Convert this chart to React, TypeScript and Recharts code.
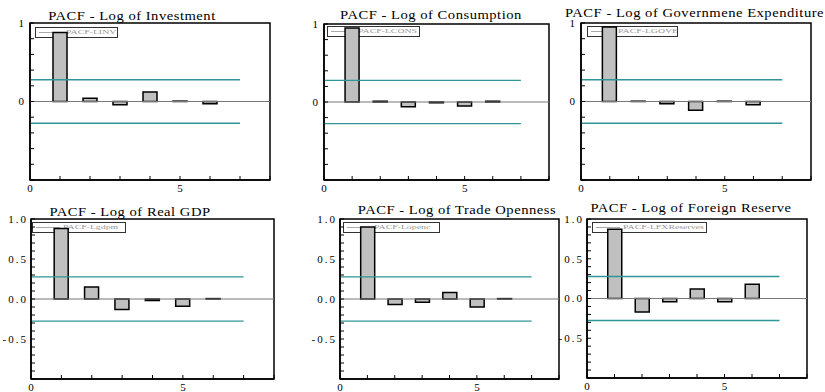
import React from 'react';
import { ComposedChart, Bar, XAxis, YAxis, ReferenceLine, ReferenceArea, Legend } from 'recharts';

// lags shown on each correlogram
const lags = [1, 2, 3, 4, 5, 6];

// partial autocorrelations
const pacfLinv = [0.88, 0.04, -0.04, 0.12, 0.005, -0.03];
const pacfLcons = [0.95, 0.01, -0.06, -0.01, -0.05, 0.01];
const pacfLgove = [0.95, 0.004, -0.03, -0.11, 0.004, -0.04];
const pacfLgdp = [0.88, 0.15, -0.13, -0.02, -0.09, 0.005];
const pacfLopen = [0.9, -0.07, -0.04, 0.08, -0.1, 0.005];
const pacfLfx = [0.87, -0.17, -0.04, 0.12, -0.04, 0.18];

// +/- 2 s.e. band, drawn out to lag 7
const bandLimit = 0.277;
const bandEnd = 7;

const xTicks = [0, 1, 2, 3, 4, 5, 6, 7, 8];
const xLabels: Record<string, string> = { '0': '0', '5': '5' };
const yTicksCoarse = [-1, -0.8, -0.6, -0.4, -0.2, 0, 0.2, 0.4, 0.6, 0.8, 1];
const yLabelsCoarse: Record<string, string> = { '1': '1', '0': '0' };
const yTicksFine = [-1, -0.9, -0.8, -0.7, -0.6, -0.5, -0.4, -0.3, -0.2, -0.1, 0, 0.1, 0.2, 0.3, 0.4, 0.5, 0.6, 0.7, 0.8, 0.9, 1];
const yLabelsFine: Record<string, string> = { '1': '1.0', '0.5': '0.5', '0': '0.0', '-0.5': '-0.5' };

const TEAL = '#2f9696';
const FONT = 'Liberation Serif';
const YW = 30;
const XH = 20;
const MT = 8;
const MR = 2;

interface PanelCfg {
  title: string;
  legend: string;
  values: number[];
  fine: boolean;
  x0: number; x1: number; y0: number; y1: number;
  titleX: number; titleTop: number; titleLeftAlign?: boolean;
  legDx: number; legDy: number; legW: number;
}

const panels: PanelCfg[] = [
  { title: 'PACF - Log of Investment', legend: 'PACF-LINV', values: pacfLinv, fine: false,
    x0: 30, x1: 270, y0: 23, y1: 180, titleX: 132, titleTop: 10.5, legDx: 5, legDy: 4, legW: 83 },
  { title: 'PACF - Log of Consumption', legend: 'PACF-LCONS', values: pacfLcons, fine: false,
    x0: 324, x1: 549, y0: 24, y1: 180, titleX: 431, titleTop: 10, legDx: 3, legDy: 2, legW: 93 },
  { title: 'PACF - Log of Governmene Expenditure', legend: 'PACF-LGOVE', values: pacfLgove, fine: false,
    x0: 581, x1: 811, y0: 23, y1: 180, titleX: 565, titleTop: 7.5, titleLeftAlign: true, legDx: 6, legDy: 3, legW: 91 },
  { title: 'PACF - Log of Real GDP', legend: 'PACF-Lgdpm', values: pacfLgdp, fine: true,
    x0: 31, x1: 274, y0: 219, y1: 379, titleX: 130, titleTop: 206.5, legDx: 1, legDy: 3, legW: 94 },
  { title: 'PACF - Log of Trade Openness', legend: 'PACF-Lopenc', values: pacfLopen, fine: true,
    x0: 340, x1: 559, y0: 219, y1: 379, titleX: 457, titleTop: 205, legDx: 3, legDy: 3, legW: 97 },
  { title: 'PACF - Log of Foreign Reserve', legend: 'PACF-LFXReserves', values: pacfLfx, fine: true,
    x0: 587, x1: 807, y0: 219, y1: 378, titleX: 691, titleTop: 203, legDx: 5, legDy: 3, legW: 115 },
];

const LegendBox = ({ name, w }: { name: string; w: number }) => (
  <div
    style={{
      width: w, height: 11, boxSizing: 'border-box', border: '1px solid #333', background: '#fff',
      display: 'flex', alignItems: 'center', overflow: 'hidden',
    }}
  >
    <div style={{ width: 24, borderTop: '1px solid #aaa', margin: '0 3px 0 3px', flex: 'none' }} />
    <span
      style={{
        fontFamily: FONT, fontSize: 7, color: '#999', whiteSpace: 'nowrap',
        display: 'inline-block', transform: 'scaleX(1.4)', transformOrigin: 'left center', lineHeight: '9px',
      }}
    >
      {name}
    </span>
  </div>
);

const Panel = ({ p }: { p: PanelCfg }) => {
  const data = lags.map((lag, i) => ({ lag, pacf: p.values[i] }));
  const width = p.x1 - p.x0 + YW + MR;
  const height = p.y1 - p.y0 + MT + XH;
  const yTicks = p.fine ? yTicksFine : yTicksCoarse;
  const yLabels = p.fine ? yLabelsFine : yLabelsCoarse;
  const tickStyle = { fontSize: 11, fill: '#000', fontFamily: FONT, letterSpacing: p.fine ? 2 : 0 };

  return (
    <>
      <div style={{ position: 'absolute', left: p.x0 - YW, top: p.y0 - MT }}>
        <ComposedChart width={width} height={height} data={data} margin={{ top: MT, right: MR, left: 0, bottom: 0 }}>
          <XAxis
            dataKey="lag" type="number" domain={[0, 8]} ticks={xTicks} interval={0}
            height={XH} tickSize={-4} tickMargin={8}
            tickFormatter={(v: number) => xLabels[String(v)] ?? ''}
            axisLine={{ stroke: '#000', strokeWidth: 1.5 }} tickLine={{ stroke: '#000' }}
            tick={{ fontSize: 11, fill: '#000', fontFamily: FONT }}
          />
          <YAxis
            type="number" domain={[-1, 1]} ticks={yTicks} interval={0}
            width={YW} tickSize={-4} tickMargin={p.fine ? 7 : 10}
            tickFormatter={(v: number) => yLabels[String(v)] ?? ''}
            axisLine={{ stroke: '#000', strokeWidth: 1.5 }} tickLine={{ stroke: '#000' }}
            tick={tickStyle}
          />
          <ReferenceArea x1={0} x2={8} y1={-1} y2={1} fill="none" stroke="#000" strokeWidth={1.5} fillOpacity={0} />
          <ReferenceLine y={0} stroke="#777" strokeWidth={1} />
          <ReferenceLine segment={[{ x: 0, y: bandLimit }, { x: bandEnd, y: bandLimit }]} stroke={TEAL} strokeWidth={1.3} />
          <ReferenceLine segment={[{ x: 0, y: -bandLimit }, { x: bandEnd, y: -bandLimit }]} stroke={TEAL} strokeWidth={1.3} />
          <Bar dataKey="pacf" fill="#c0c0c0" stroke="#000" strokeWidth={1.5} barSize={14} isAnimationActive={false} />
          <Legend
            layout="vertical" align="center" verticalAlign="middle"
            wrapperStyle={{ left: YW + p.legDx, top: MT + p.legDy, width: p.legW, height: 11, zIndex: -1 }}
            content={() => <LegendBox name={p.legend} w={p.legW} />}
          />
        </ComposedChart>
      </div>
      <div
        style={{
          position: 'absolute', left: p.titleX, top: p.titleTop, fontFamily: FONT, fontSize: 11.5,
          lineHeight: '11px', whiteSpace: 'nowrap', color: '#000', letterSpacing: 0.4,
          transform: p.titleLeftAlign ? 'scaleX(1.27)' : 'translateX(-50%) scaleX(1.27)',
          transformOrigin: p.titleLeftAlign ? 'left center' : 'center center',
        }}
      >
        {p.title}
      </div>
    </>
  );
};

export default function App() {
  return (
    <div style={{ position: 'absolute', left: 0, top: 0, width: 825, height: 392, overflow: 'hidden' }}>
      {panels.map((p) => (
        <Panel key={p.title} p={p} />
      ))}
    </div>
  );
}
